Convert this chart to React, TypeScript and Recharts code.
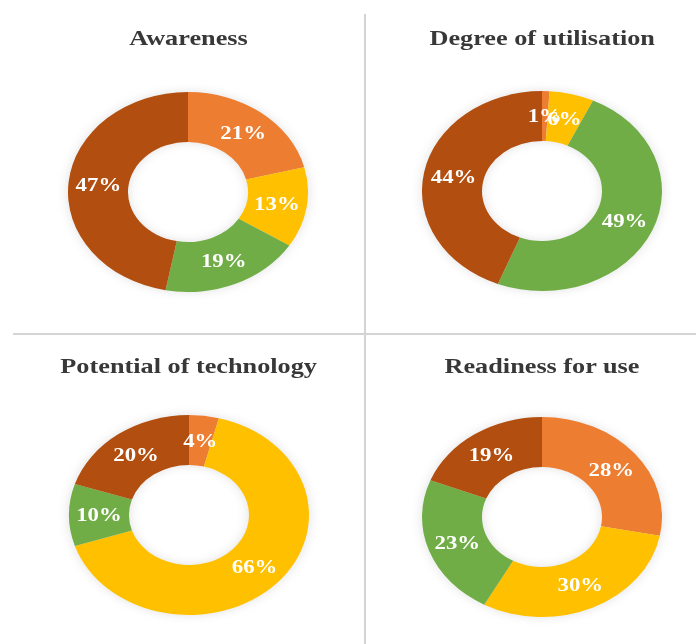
import { PieChart, Pie, Cell } from "recharts"

const segments = ["Segment 1", "Segment 2", "Segment 3", "Segment 4"]
const segmentColors = ["#ED7D31", "#FFC000", "#70AD47", "#B24E0F"]

const titles = ["Awareness", "Degree of utilisation", "Potential of technology", "Readiness for use"]
const awareness = [21, 13, 19, 47]
const utilisation = [1, 6, 49, 44]
const potential = [4, 66, 10, 20]
const readiness = [28, 30, 23, 19]

const panels = [
  { title: titles[0], values: awareness, cx: 188, cy: 192, titleY: 26 },
  { title: titles[1], values: utilisation, cx: 542, cy: 191, titleY: 26 },
  { title: titles[2], values: potential, cx: 189, cy: 515, titleY: 354 },
  { title: titles[3], values: readiness, cx: 542, cy: 517, titleY: 354 },
]

const RADIAN = Math.PI / 180
const SIZE = 204
const STRETCH = 1.2

const renderLabel = (props: any) => {
  const { cx, cy, midAngle, innerRadius, outerRadius, value } = props
  const r = (innerRadius + outerRadius) / 2
  const x = cx + r * Math.cos(-midAngle * RADIAN)
  const y = cy + r * Math.sin(-midAngle * RADIAN)
  return (
    <text
      x={x}
      y={y}
      fill="#ffffff"
      textAnchor="middle"
      dominantBaseline="central"
      style={{ fontFamily: "'Liberation Serif', 'DejaVu Serif', serif", fontWeight: 700, fontSize: 19 }}
    >
      {value}%
    </text>
  )
}

function Donut({ title, values, cx, cy, titleY }: { title: string; values: number[]; cx: number; cy: number; titleY: number }) {
  const data = segments.map((name, i) => ({ name, value: values[i] }))
  return (
    <>
      <div
        style={{
          position: "absolute",
          left: cx - 170,
          top: titleY,
          width: 340,
          textAlign: "center",
          fontFamily: "'Liberation Serif', serif",
          fontWeight: 700,
          fontSize: 21,
          color: "#383838",
          lineHeight: "24px",
        }}
      >
        <span style={{ display: "inline-block", transform: "scaleX(1.25)" }}>{title}</span>
      </div>
      <div
        style={{
          position: "absolute",
          left: cx - SIZE / 2,
          top: cy - SIZE / 2,
          width: SIZE,
          height: SIZE,
          transform: `scaleX(${STRETCH})`,
          transformOrigin: "center",
          filter: "drop-shadow(0 0 5px rgba(0,0,0,0.12))",
        }}
      >
        <PieChart width={SIZE} height={SIZE} margin={{ top: 0, right: 0, bottom: 0, left: 0 }}>
          <Pie
            data={data}
            dataKey="value"
            nameKey="name"
            cx={SIZE / 2}
            cy={SIZE / 2}
            innerRadius={50}
            outerRadius={100}
            startAngle={90}
            endAngle={-270}
            stroke="none"
            labelLine={false}
            label={renderLabel}
            isAnimationActive={false}
          >
            {data.map((d, i) => (
              <Cell key={d.name} fill={segmentColors[i]} />
            ))}
          </Pie>
        </PieChart>
      </div>
    </>
  )
}

export default function App() {
  return (
    <div style={{ position: "absolute", left: 0, top: 0, width: 696, height: 644, background: "#ffffff", overflow: "hidden" }}>
      <div style={{ position: "absolute", left: 364, top: 14, width: 2, height: 630, background: "#d4d4d4" }} />
      <div style={{ position: "absolute", left: 13, top: 333, width: 683, height: 2, background: "#d4d4d4" }} />
      {panels.map((p) => (
        <Donut key={p.title} {...p} />
      ))}
    </div>
  )
}
